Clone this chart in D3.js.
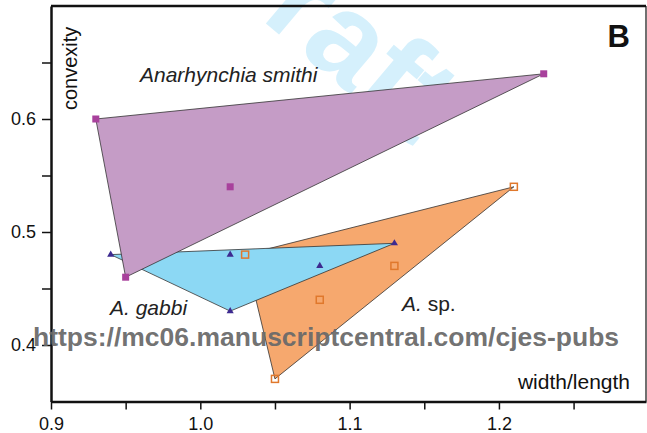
<!DOCTYPE html>
<html>
<head>
<meta charset="utf-8">
<script src="https://cdn.jsdelivr.net/npm/d3@7"></script>
<style>
    body { margin: 0; background: #fff; }
    svg { display: block; font-family: "Liberation Sans", Arial, sans-serif; }
</style>
</head>
<body>
<svg id="chart"></svg>
<script>
// convexity vs width/length, three species
const smithiX = [0.93, 1.23, 0.95, 1.02];
const smithiY = [0.60, 0.64, 0.46, 0.54];
const gabbiX = [0.94, 1.02, 1.02, 1.08, 1.13];
const gabbiY = [0.48, 0.48, 0.43, 0.47, 0.49];
const spX = [1.03, 1.21, 1.13, 1.08, 1.05];
const spY = [0.48, 0.54, 0.47, 0.44, 0.37];

const xTicks = [0.9, 0.95, 1.0, 1.05, 1.1, 1.15, 1.2, 1.25];
const xTickLabels = {"0.9": "0.9", "1": "1.0", "1.1": "1.1", "1.2": "1.2"};
const yTicks = [0.4, 0.45, 0.5, 0.55, 0.6, 0.65];
const yTickLabels = {"0.4": "0.4", "0.5": "0.5", "0.6": "0.6"};

const WIDTH = 647, HEIGHT = 433;

const svg = d3.select("#chart")
    .attr("width", WIDTH)
    .attr("height", HEIGHT);

const xScale = d3.scaleLinear()
    .domain([0.9, 1.2985])
    .range([51, 646]);

const yScale = d3.scaleLinear()
    .domain([0.35, 0.7])
    .range([401.5, 6]);

// Draft watermark, behind everything
svg.append("text")
    .attr("transform", "translate(190,-40) rotate(40)")
    .attr("font-size", 125)
    .attr("font-weight", "bold")
    .attr("fill", "#d5f0fc")
    .text("Draft");

const groups = [
    {x: spX, y: spY, fill: "#f6a86e", marker: "openSquare", color: "#e0782c"},
    {x: gabbiX, y: gabbiY, fill: "#8cd8f4", marker: "triangle", color: "#3d2a90"},
    {x: smithiX, y: smithiY, fill: "#c59cc6", marker: "square", color: "#a8419c"}
];

// hulls
groups.forEach(g => {
    const pts = g.x.map((v, i) => [xScale(v), yScale(g.y[i])]);
    const hull = d3.polygonHull(pts);
    svg.append("path")
        .attr("d", "M" + hull.join("L") + "Z")
        .style("fill", g.fill)
        .style("stroke", "#333")
        .style("stroke-width", 0.8);
});

// markers
groups.forEach(g => {
    const pts = g.x.map((v, i) => [xScale(v), yScale(g.y[i])]);
    if (g.marker === "triangle") {
        svg.selectAll(null).data(pts).enter()
            .append("path")
            .attr("d", d3.symbol(d3.symbolTriangle, 22)())
            .attr("transform", d => `translate(${d[0]},${d[1]})`)
            .style("fill", g.color);
    } else if (g.marker === "square") {
        svg.selectAll(null).data(pts).enter()
            .append("rect")
            .attr("x", d => d[0] - 3.5)
            .attr("y", d => d[1] - 3.5)
            .attr("width", 7)
            .attr("height", 7)
            .style("fill", g.color);
    } else {
        svg.selectAll(null).data(pts).enter()
            .append("rect")
            .attr("x", d => d[0] - 3.5)
            .attr("y", d => d[1] - 3.5)
            .attr("width", 7)
            .attr("height", 7)
            .style("fill", "none")
            .style("stroke", g.color)
            .style("stroke-width", 1.5);
    }
});

// frame: top and right
svg.append("line")
    .attr("x1", 51).attr("x2", 646)
    .attr("y1", yScale(0.7)).attr("y2", yScale(0.7))
    .style("stroke", "#111").style("stroke-width", 2.5);
svg.append("line")
    .attr("x1", 646).attr("x2", 646)
    .attr("y1", yScale(0.7)).attr("y2", yScale(0.35))
    .style("stroke", "#111").style("stroke-width", 1.2);

// axes
const xAxis = svg.append("g")
    .attr("transform", `translate(0,${yScale(0.35)})`)
    .call(d3.axisBottom(xScale)
        .tickValues(xTicks)
        .tickFormat(d => xTickLabels[String(d)] || "")
        .tickSize(8)
        .tickSizeOuter(0)
        .tickPadding(8));

const yAxis = svg.append("g")
    .attr("transform", `translate(${xScale(0.9)},0)`)
    .call(d3.axisLeft(yScale)
        .tickValues(yTicks)
        .tickFormat(d => yTickLabels[String(d)] || "")
        .tickSize(9)
        .tickSizeOuter(0)
        .tickPadding(6));

[xAxis, yAxis].forEach(a => {
    a.select(".domain").style("stroke", "#111").style("stroke-width", 2.5);
    a.selectAll(".tick line").style("stroke", "#111").style("stroke-width", 1.5);
    a.selectAll("text")
        .style("font-family", "'Liberation Sans', Arial, sans-serif")
        .style("font-size", "18px")
        .style("fill", "#111");
});

// titles
svg.append("text")
    .attr("transform", "translate(77,110) rotate(-90)")
    .attr("font-size", 20)
    .attr("fill", "#111")
    .text("convexity");

svg.append("text")
    .attr("x", 630).attr("y", 389)
    .attr("text-anchor", "end")
    .attr("font-size", 21)
    .attr("fill", "#111")
    .text("width/length");

svg.append("text")
    .attr("x", 630).attr("y", 47)
    .attr("text-anchor", "end")
    .attr("font-size", 31)
    .attr("font-weight", "bold")
    .attr("fill", "#111")
    .text("B");

// species labels
svg.append("text")
    .attr("x", 140).attr("y", 82)
    .attr("font-size", 21)
    .attr("font-style", "italic")
    .attr("fill", "#222")
    .text("Anarhynchia smithi");

svg.append("text")
    .attr("x", 110).attr("y", 315)
    .attr("font-size", 21)
    .attr("font-style", "italic")
    .attr("fill", "#222")
    .text("A. gabbi");

const spLabel = svg.append("text")
    .attr("x", 402).attr("y", 311)
    .attr("font-size", 21)
    .attr("fill", "#222");
spLabel.append("tspan").attr("font-style", "italic").text("A.");
spLabel.append("tspan").text(" sp.");

// url watermark on top
svg.append("text")
    .attr("x", 33).attr("y", 346)
    .attr("font-size", 26.5)
    .attr("font-weight", "bold")
    .attr("fill", "#6a6a6a")
    .attr("fill-opacity", 0.95)
    .text("https://mc06.manuscriptcentral.com/cjes-pubs");
</script>
</body>
</html>
